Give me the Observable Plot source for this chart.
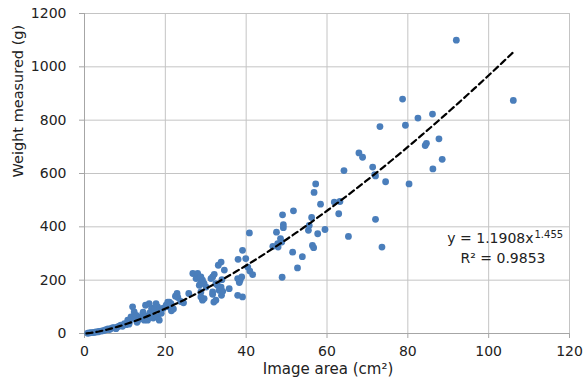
<!DOCTYPE html>
<html><head><meta charset="utf-8">
<script src="https://cdn.jsdelivr.net/npm/d3@7"></script>
<script src="https://cdn.jsdelivr.net/npm/@observablehq/plot@0.6"></script>
<style>body{margin:0;background:#fff}</style>
</head><body><div id="chart"></div>
<script>
// Image area (cm²) of each sample
const areaX = [
  0.8,1.2,1.6,2.0,2.4,2.8,3.3,3.6,4.1,4.5,4.9,5.3,5.8,6.2,6.6,7.0,7.4,7.8,8.2,8.6,
  9.0,9.4,9.9,10.3,10.7,11.0,11.1,11.5,11.9,12.3,12.4,12.8,13.0,13.2,13.6,14.0,14.4,14.5,14.8,15.1,
  15.2,15.6,16.0,16.2,16.5,16.6,16.9,17.0,17.3,17.7,18.1,18.1,18.5,18.5,19.0,19.5,20.2,20.6,20.8,21.0,
  21.4,21.5,22.0,22.5,22.9,23.1,23.8,24.5,
  25.8,26.8,27.6,28.0,28.4,28.6,28.8,28.8,28.8,28.8,29.2,29.2,29.6,29.6,30.1,31.3,31.7,31.7,31.7,32.0,
  32.1,32.5,32.5,32.9,33.1,33.3,33.8,33.8,33.9,34.0,34.2,34.6,35.8,37.9,37.9,38.0,38.3,38.5,38.9,39.1,
  39.1,39.9,40.4,40.8,40.9,41.6,
  46.6,47.5,47.8,47.9,48.5,48.8,48.9,49.0,49.2,49.2,51.5,51.7,52.7,53.9,55.4,55.6,56.2,56.4,56.7,56.8,
  57.2,57.7,58.4,59.5,
  61.8,62.9,63.2,64.2,65.3,67.9,68.8,71.3,71.8,72.0,72.0,73.1,73.6,74.5,78.7,79.4,80.3,82.5,84.3,84.6,
  86.1,86.2,87.7,88.5,92.0,106.1
];
// Weight measured (g) of each sample
const weightY = [
  1,2,3,3,4,6,6,8,9,10,12,14,17,15,19,22,22,18,25,28,
  31,27,37,33,50,35,42,62,100,81,55,68,42,50,60,56,72,80,50,106,
  65,50,112,78,62,95,75,58,90,112,100,62,87,50,76,95,106,118,100,118,
  112,85,92,140,150,135,120,115,
  150,225,206,225,181,210,193,212,156,137,200,125,187,131,174,206,212,156,147,118,
  222,187,125,181,256,162,268,174,143,202,158,238,168,206,143,278,191,200,212,312,
  137,281,249,377,234,221,
  327,380,337,324,356,343,211,445,408,397,305,460,246,288,387,405,435,330,322,529,
  561,374,485,390,
  493,449,495,611,364,677,661,624,596,591,428,776,324,569,879,781,561,808,705,713,
  823,617,730,653,1100,874
];
const xTicks = [0, 20, 40, 60, 80, 100, 120];
const yTicks = [0, 200, 400, 600, 800, 1000, 1200];
const xTitle = "Image area (cm²)";
const yTitle = "Weight measured (g)";
// Power trendline shown on the chart: y = 1.1908 x^1.455, R² = 0.9853
const fitA = 1.1908, fitB = 1.455;
const fitLabel = "y = 1.1908x";
const fitExpLabel = "1.455";
const r2Label = "R² = 0.9853";
const fitRange = [0.5, 106];

const points = areaX.map((x, i) => ({x, y: weightY[i]}));
const fit = d3.range(fitRange[0], fitRange[1] + 0.001, 1).concat([fitRange[1]])
  .map(x => ({x, y: fitA * Math.pow(x, fitB)}));

const gridColor = "#c4c4c4";
const axisColor = "#a6a6a6";
const textColor = "#222";

const chart = Plot.plot({
  width: 583,
  height: 384,
  marginLeft: 84,
  marginRight: 14,
  marginTop: 13,
  marginBottom: 51,
  style: {fontFamily: "DejaVu Sans", fontSize: "14px", color: textColor, background: "#fff"},
  x: {domain: [0, 120]},
  y: {domain: [0, 1200]},
  marks: [
    Plot.gridX(xTicks, {stroke: gridColor, strokeOpacity: 1}),
    Plot.gridY(yTicks, {stroke: gridColor, strokeOpacity: 1}),
    Plot.ruleX([0], {stroke: axisColor}),
    Plot.ruleY([0], {stroke: axisColor}),
    Plot.axisX({ticks: xTicks, tickFormat: d => String(d), tickSize: 5, tickPadding: 8, stroke: axisColor, fill: textColor, label: null, fontSize: 14}),
    Plot.axisY({ticks: yTicks, tickFormat: d => String(d), tickSize: 5, tickPadding: 13, stroke: axisColor, fill: textColor, label: null, fontSize: 14}),
    Plot.dot(points, {x: "x", y: "y", r: 3.4, fill: "#4a7ebb", stroke: "none"}),
    Plot.line(fit, {x: "x", y: "y", stroke: "#000", strokeWidth: 2.2, strokeDasharray: "6,4"}),
    Plot.text([xTitle], {frameAnchor: "bottom", text: d => d, dx: 1, dy: 40, fontSize: 15, fill: textColor}),
    Plot.text([yTitle], {frameAnchor: "left", text: d => d, rotate: -90, dx: -66, dy: 4, fontSize: 14.5, fill: textColor}),
    Plot.text([fitLabel], {frameAnchor: "bottom-right", text: d => d, textAnchor: "end", dx: -36, dy: -91, fontSize: 14, fill: textColor}),
    Plot.text([fitExpLabel], {frameAnchor: "bottom-right", text: d => d, textAnchor: "start", dx: -35, dy: -96, fontSize: 10, fill: textColor}),
    Plot.text([r2Label], {frameAnchor: "bottom-right", text: d => d, textAnchor: "middle", dx: -66.5, dy: -70.5, fontSize: 14, fill: textColor})
  ]
});
document.getElementById("chart").append(chart);
</script>
</body></html>
